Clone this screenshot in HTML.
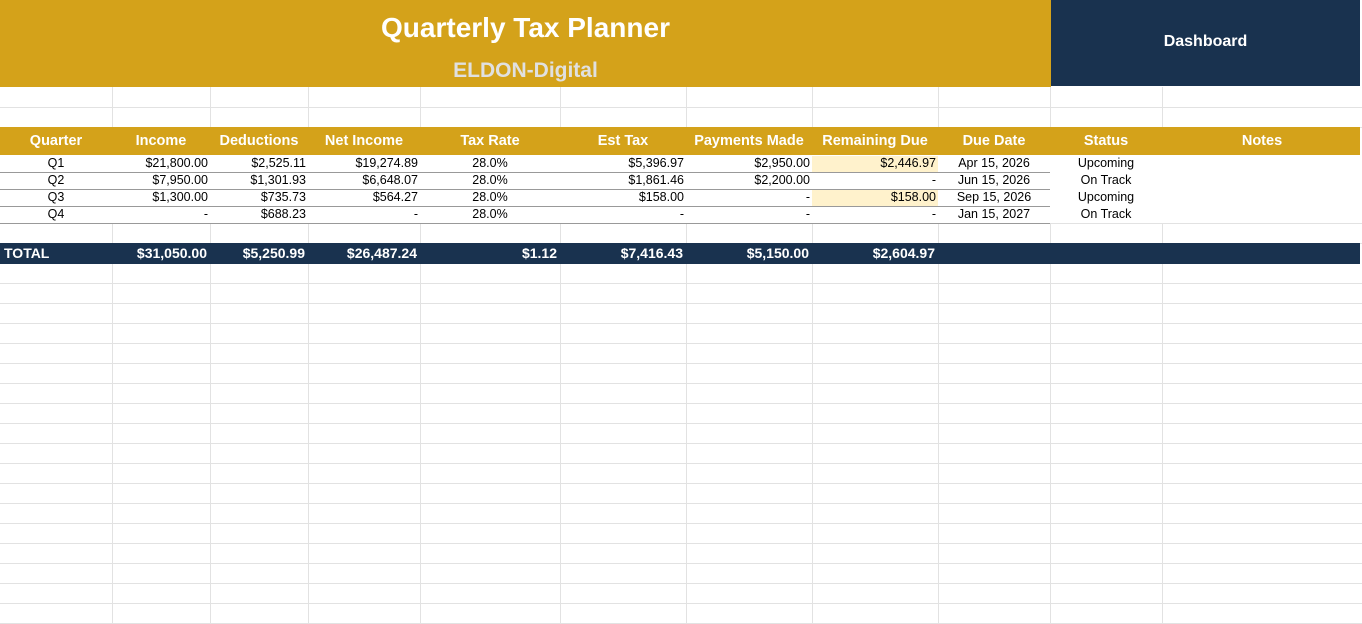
<!DOCTYPE html><html><head><style>
body{margin:0;width:1362px;height:624px;position:relative;overflow:hidden;background:#fff;font-family:"Liberation Sans",Arial,sans-serif}
.a{position:absolute}
.vl{position:absolute;width:1px;background:#e2e2e2}
.hl{position:absolute;left:0;width:1362px;height:1px;background:#e2e2e2}
.c{position:absolute;font-size:12.5px;color:#000;white-space:nowrap;box-sizing:border-box;padding:0 2px}
.h{position:absolute;font-size:14.5px;font-weight:bold;color:#fff;text-align:center;top:127px;height:28px;line-height:28px}
.t{position:absolute;font-size:14px;font-weight:bold;color:#fff;top:243px;height:21px;line-height:21px;text-align:right;padding-right:3px;box-sizing:border-box}
</style></head><body>
<div class="a" style="left:0;top:0;width:1051px;height:87px;background:#D4A21A"></div>
<div class="a" style="left:1051px;top:0;width:309px;height:86px;background:#19324F"></div>
<div class="a" style="left:0;top:12px;width:1051px;text-align:center;color:#fff;font-weight:bold;font-size:28px">Quarterly Tax Planner</div>
<div class="a" style="left:0;top:59px;width:1051px;text-align:center;color:#e0e0e0;font-weight:bold;font-size:21px">ELDON-Digital</div>
<div class="a" style="left:1051px;top:33px;width:309px;text-align:center;color:#fff;font-weight:bold;font-size:16px">Dashboard</div>
<div id="grid"></div>
<div class="a" style="left:0;top:127px;width:1360px;height:28px;background:#D4A21A"></div>
<div class="a" style="left:0;top:243px;width:1360px;height:21px;background:#19324F"></div>
<div class="a" style="left:812px;top:156px;width:126px;height:16px;background:#FFF2CC"></div>
<div class="a" style="left:812px;top:190px;width:126px;height:16px;background:#FFF2CC"></div>
<script>
var xs=[0,112,210,308,420,560,686,812,938,1050,1162,1362];
var g='';
for(var i=1;i<xs.length-1;i++){g+='<div class="vl" style="left:'+xs[i]+'px;top:87px;height:40px"></div>';g+='<div class="vl" style="left:'+xs[i]+'px;top:223px;bottom:0"></div>';}
var ys=[107,127,223,243];for(var y=283;y<624;y+=20)ys.push(y);
ys.forEach(function(y){g+='<div class="hl" style="top:'+y+'px"></div>'});
[172,189,206,223].forEach(function(y){g+='<div class="hl" style="top:'+y+'px;background:#999;width:1050px"></div>'});
document.getElementById('grid').innerHTML=g;
var H=['Quarter','Income','Deductions','Net Income','Tax Rate','Est Tax','Payments Made','Remaining Due','Due Date','Status','Notes'];
var s='';
H.forEach(function(h,i){s+='<div class="h" style="left:'+xs[i]+'px;width:'+(xs[i+1]-xs[i])+'px">'+h+'</div>'});
var R=[['Q1','$21,800.00','$2,525.11','$19,274.89','28.0%','$5,396.97','$2,950.00','$2,446.97','Apr 15, 2026','Upcoming'],
['Q2','$7,950.00','$1,301.93','$6,648.07','28.0%','$1,861.46','$2,200.00','-','Jun 15, 2026','On Track'],
['Q3','$1,300.00','$735.73','$564.27','28.0%','$158.00','-','$158.00','Sep 15, 2026','Upcoming'],
['Q4','-','$688.23','-','28.0%','-','-','-','Jan 15, 2027','On Track']];
var al=['center','right','right','right','center','right','right','right','center','center'];
R.forEach(function(r,j){var y=155+j*17;r.forEach(function(v,i){s+='<div class="c" style="left:'+xs[i]+'px;width:'+(xs[i+1]-xs[i])+'px;top:'+y+'px;height:17px;line-height:17px;text-align:'+al[i]+'">'+v+'</div>'})});
var T=['','$31,050.00','$5,250.99','$26,487.24','$1.12','$7,416.43','$5,150.00','$2,604.97'];
s+='<div class="t" style="left:4px;text-align:left">TOTAL</div>';
T.forEach(function(v,i){if(i)s+='<div class="t" style="left:'+xs[i]+'px;width:'+(xs[i+1]-xs[i])+'px">'+v+'</div>'});
document.body.insertAdjacentHTML('beforeend',s);
</script>
</body></html>
